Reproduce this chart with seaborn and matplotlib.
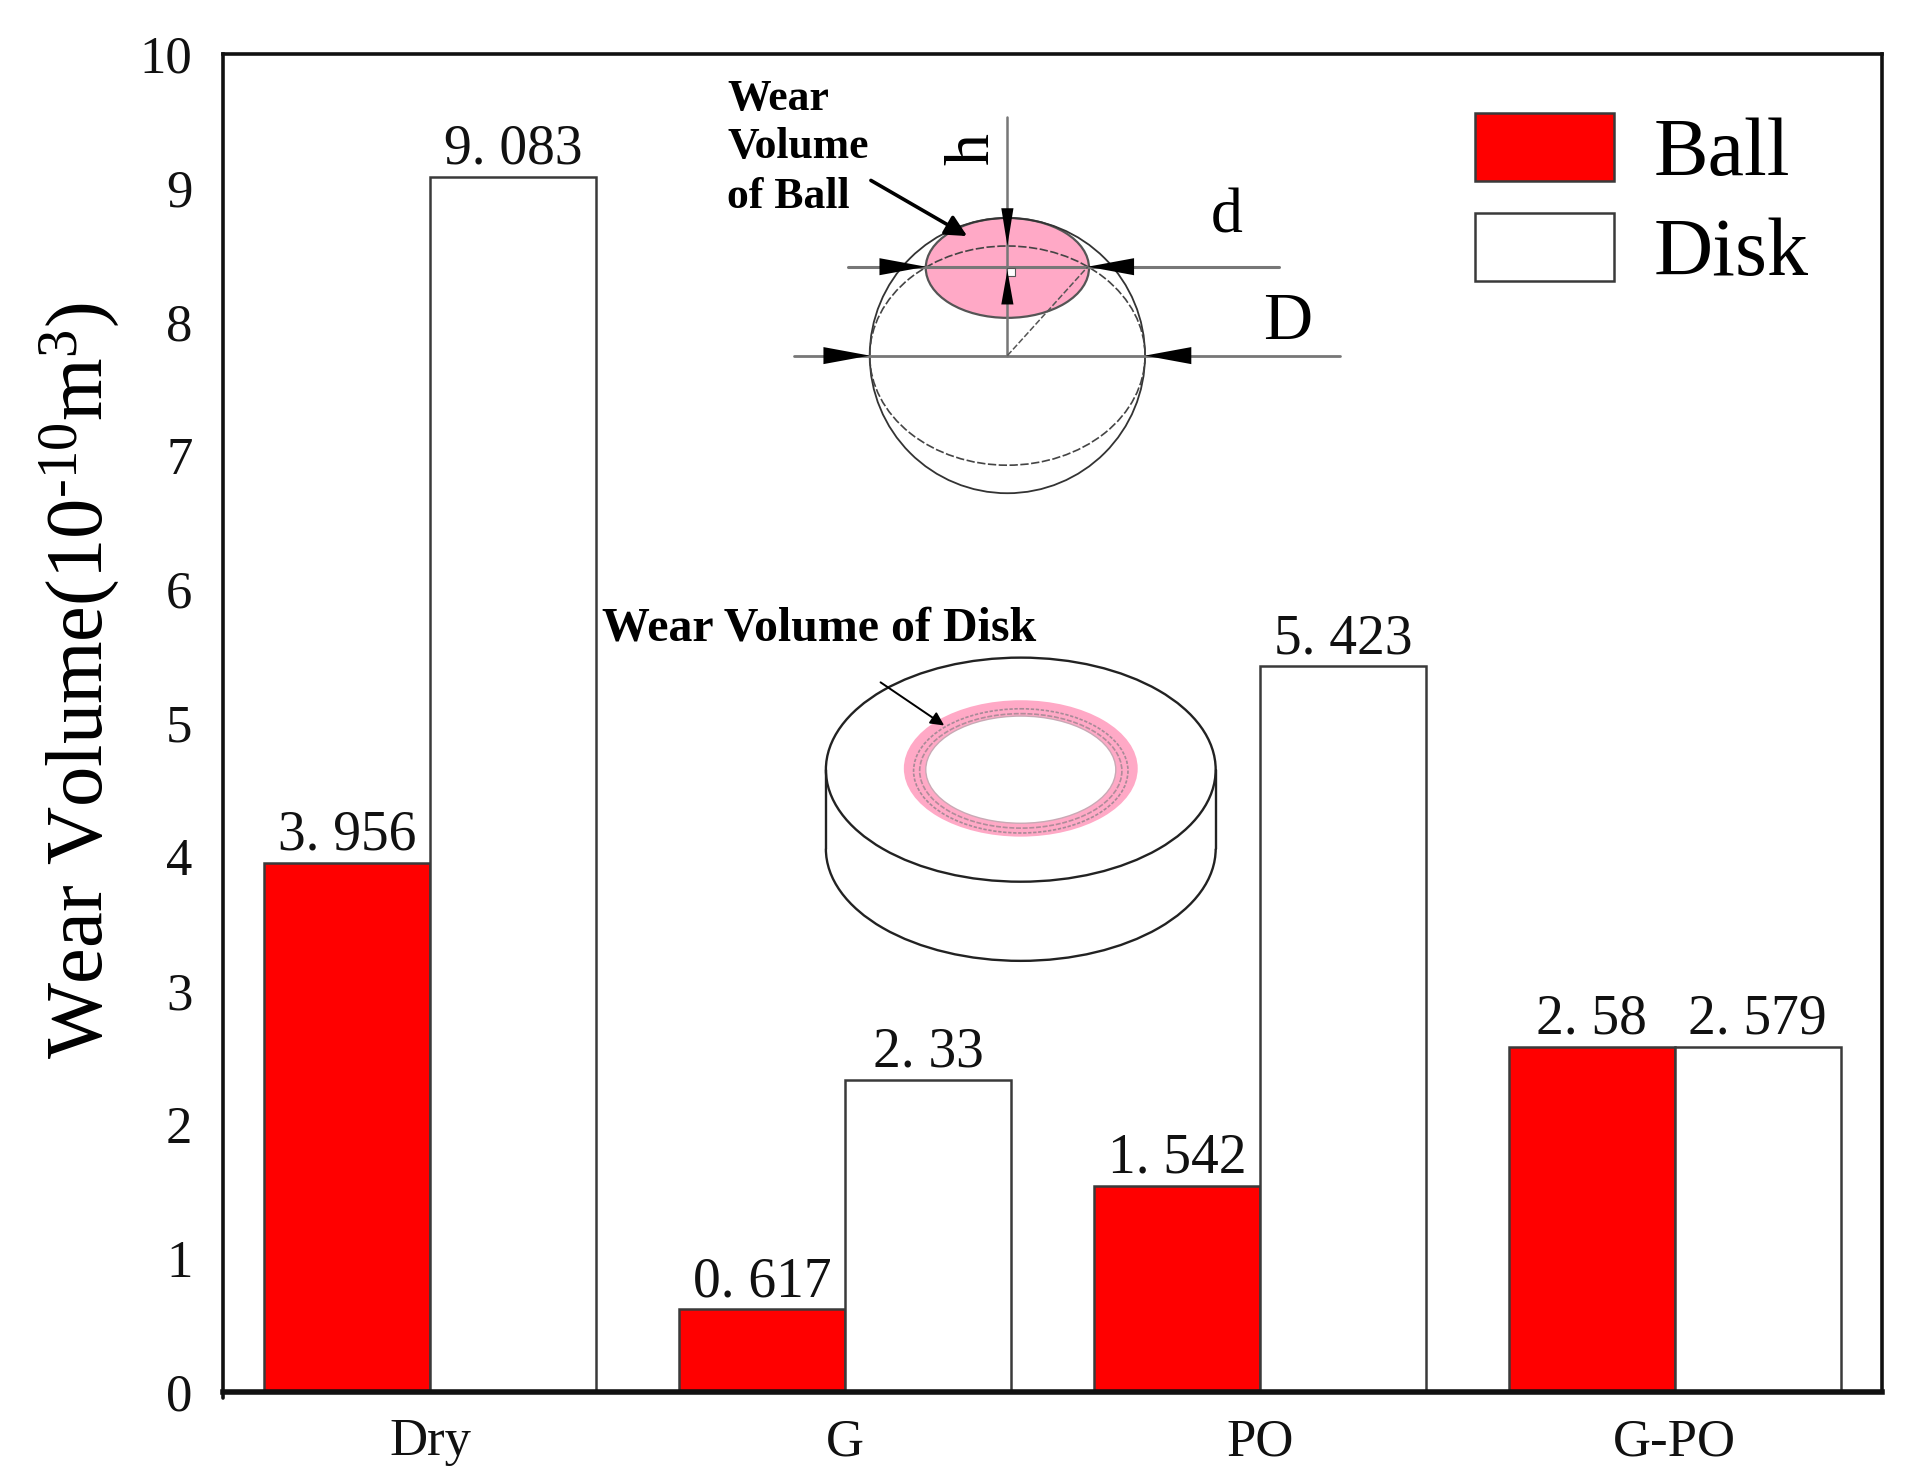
import pandas as pd
import seaborn as sns
import matplotlib.pyplot as plt
from matplotlib.patches import Ellipse, Polygon, Arc, Rectangle

conditions = ["Dry", "G", "PO", "G-PO"]
ball_volume = [3.956, 0.617, 1.542, 2.58]
disk_volume = [9.083, 2.33, 5.423, 2.579]
y_ticks = [0, 1, 2, 3, 4, 5, 6, 7, 8, 9, 10]

PINK = "#FFA9C6"
LINE = "#3a3a3a"
SERIF = "Liberation Serif"


def spaced(value):
    # the original labels have a wide gap after the dot
    return f"{value:g}".replace(".", ". ")


def triangle(ax, tip, base, half):
    if tip[1] == base[1]:
        pts = [tip, (base[0], base[1] - half), (base[0], base[1] + half)]
    else:
        pts = [tip, (base[0] - half, base[1]), (base[0] + half, base[1])]
    ax.add_patch(Polygon(pts, closed=True, fc="black", ec="none", zorder=6))


def draw_ball(ax):
    ax.add_patch(Ellipse((827, 220), 134, 82, fc=PINK, ec="#555555", lw=1.6, zorder=2))
    ax.add_patch(Ellipse((827, 292), 226, 226, fc="none", ec="#333333", lw=1.3, zorder=3))
    ax.add_patch(Ellipse((827, 292), 226, 180, fc="none", ec="#444444", lw=1.2, ls=(0, (5, 1.5)), zorder=3))
    ax.plot([827, 827], [96, 292], color="#777777", lw=1.8, zorder=4)
    ax.plot([696, 1050], [219, 219], color="#777777", lw=2.2, zorder=4)
    ax.plot([652, 1100], [292, 292], color="#777777", lw=2.0, zorder=4)
    ax.plot([827, 893], [292, 219], color="#555555", lw=1.1, ls=(0, (4, 1.5)), zorder=4)
    ax.add_patch(Rectangle((827, 220), 6, 7, fc="white", ec="#555555", lw=0.8, zorder=6))
    triangle(ax, (760, 219), (722, 219), 7)
    triangle(ax, (893, 219), (931, 219), 7)
    triangle(ax, (714, 292), (676, 292), 7)
    triangle(ax, (940, 292), (978, 292), 7)
    triangle(ax, (827, 202), (827, 171), 5)
    triangle(ax, (827, 222), (827, 250), 5)
    ax.annotate("", xy=(796, 195), xytext=(713, 147), zorder=7,
                arrowprops=dict(arrowstyle="-|>", color="black", lw=2.6, mutation_scale=32))
    ax.text(597, 81, "Wear", fontsize=31.5, fontweight="bold", va="center", ha="left")
    ax.text(597, 121, "Volume", fontsize=31.5, fontweight="bold", va="center", ha="left")
    ax.text(597, 162, "of Ball", fontsize=31.5, fontweight="bold", va="center", ha="left")
    ax.text(799, 122, "h", fontsize=46, rotation=90, va="center", ha="center")
    ax.text(1007, 179, "d", fontsize=46, va="center", ha="center")
    ax.text(1057, 265, "D", fontsize=49, va="center", ha="center")


def draw_disk(ax):
    cx, top, low = 838, 632, 697
    ax.add_patch(Ellipse((cx, top), 320, 184, fc="white", ec="#222222", lw=1.7, zorder=2))
    ax.add_patch(Arc((cx, low), 320, 184, theta1=0, theta2=180, ec="#222222", lw=1.7, zorder=2))
    ax.plot([678, 678], [top, low], color="#222222", lw=1.7, zorder=2)
    ax.plot([998, 998], [top, low], color="#222222", lw=1.7, zorder=2)
    ax.add_patch(Ellipse((cx, top - 1), 192, 112, fc=PINK, ec="none", zorder=3))
    ax.add_patch(Ellipse((cx, top), 156, 88, fc="white", ec="#C9A9B5", lw=1.0, zorder=4))
    ax.add_patch(Ellipse((cx, top + 1), 176, 102, fc="none", ec="#A78A97", lw=1.2, ls=(0, (2, 1)), zorder=4))
    ax.add_patch(Ellipse((cx, top + 1), 166, 94, fc="none", ec="#B08C9A", lw=1.2, ls=(0, (3, 1)), zorder=4))
    ax.annotate("", xy=(777, 597), xytext=(721, 559), zorder=5,
                arrowprops=dict(arrowstyle="-|>", color="black", lw=1.4, mutation_scale=20))
    ax.text(494, 516, "Wear Volume of Disk", fontsize=34.5, fontweight="bold", va="center", ha="left")


sns.set_style("white")
plt.rcParams["font.family"] = [SERIF, "DejaVu Serif"]
plt.rcParams["text.color"] = "black"
plt.rcParams["mathtext.fontset"] = "custom"
plt.rcParams["mathtext.rm"] = SERIF
plt.rcParams["mathtext.default"] = "rm"

df = pd.DataFrame({"Condition": conditions, "Ball": ball_volume, "Disk": disk_volume})
df = df.melt(id_vars="Condition", var_name="Part", value_name="Wear Volume")

fig = plt.figure(figsize=(19.10, 14.76), dpi=100)
ax = fig.add_axes([223 / 1910, 1 - 1392 / 1476, 1659 / 1910, 1338 / 1476])

sns.barplot(data=df, x="Condition", y="Wear Volume", hue="Part", order=conditions,
            palette={"Ball": "#FF0000", "Disk": "#FFFFFF"}, edgecolor=LINE, linewidth=1.8,
            width=0.8, errorbar=None, saturation=1, ax=ax)

for container in ax.containers:
    ax.bar_label(container, fmt=spaced, padding=1, fontsize=40, color="#111111")

ax.set_xlim(-0.5, 3.5)
ax.set_ylim(0, 10)
ax.set_yticks(y_ticks)
ax.tick_params(axis="both", length=0, labelsize=38, labelcolor="#111111")
ax.tick_params(axis="x", pad=19)
ax.tick_params(axis="y", pad=22)
ax.set_xlabel("")
ax.set_ylabel(r"Wear Volume(10$^{\text{-10}}$m$^{3}$)", fontsize=58, color="black", labelpad=13, y=0.532)
for name, spine in ax.spines.items():
    spine.set_color("#111111")
    spine.set_linewidth(4.0 if name == "bottom" else 2.6)

handles, labels = ax.get_legend_handles_labels()
ax.legend(handles, labels, loc="upper left", bbox_to_anchor=(0.7544, 0.956), frameon=False,
          fontsize=59, handlelength=1.7, handleheight=0.9, handletextpad=0.48,
          labelspacing=0.24, borderpad=0, borderaxespad=0)

# schematics are placed in the coordinates of the 1568 wide view
overlay = fig.add_axes([0, 0, 1, 1], facecolor="none")
overlay.set_xlim(0, 1568)
overlay.set_ylim(1212, 0)
overlay.axis("off")
overlay.plot([183, 183], [1143, 1148], color="#111111", lw=2.6)
draw_ball(overlay)
draw_disk(overlay)

fig.savefig("out.png", dpi=100)
